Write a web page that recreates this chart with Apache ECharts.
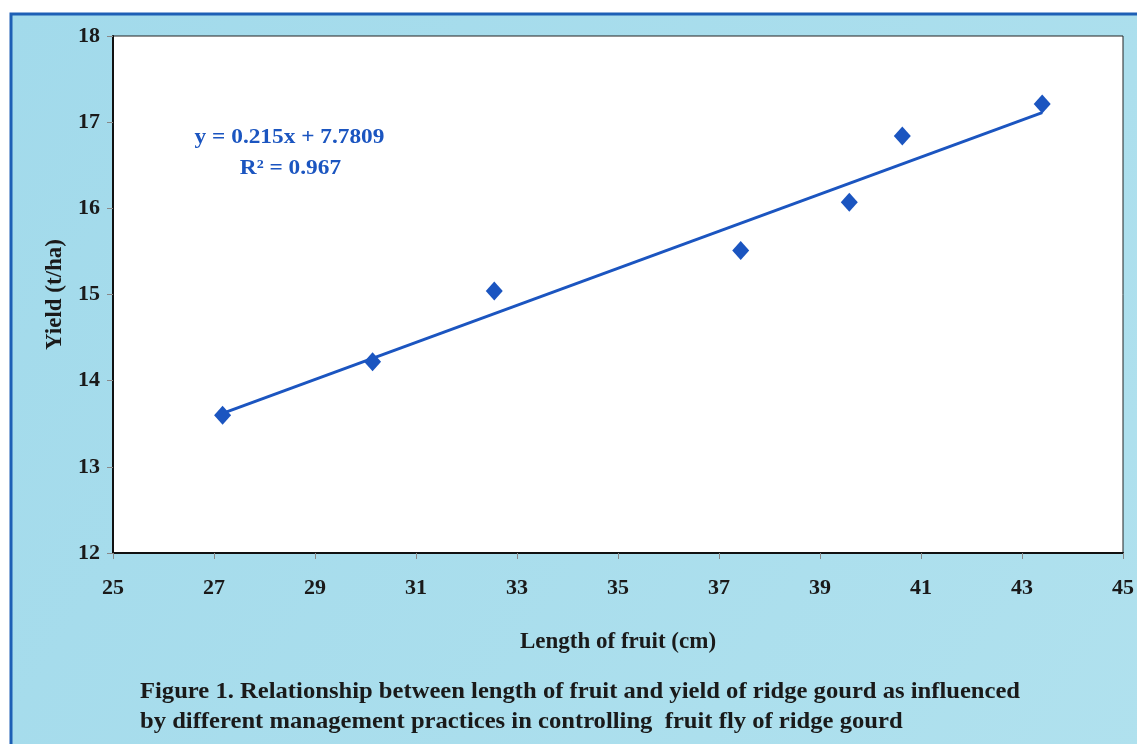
<!DOCTYPE html>
<html><head><meta charset="utf-8">
<script src="https://cdn.jsdelivr.net/npm/echarts@6/dist/echarts.min.js"></script>
<style>html,body{margin:0;padding:0;background:#fff}#c{width:1137px;height:744px}</style>
</head><body><div id="c"></div>
<script>
// Data
const fruitLength = [27.17, 30.14, 32.55, 37.43, 39.58, 40.63, 43.40];
const yieldTHa    = [13.60, 14.22, 15.04, 15.51, 16.07, 16.84, 17.21];
const trendX = [27.17, 43.40];
const trendY = [13.62, 17.11];
const xTicks = [25, 27, 29, 31, 33, 35, 37, 39, 41, 43, 45];
const yTicks = [12, 13, 14, 15, 16, 17, 18];
const equationText = 'y = 0.215x + 7.7809';
const r2Text = 'R² = 0.967';
const xName = 'Length of fruit (cm)';
const yName = 'Yield (t/ha)';
const caption1 = 'Figure 1. Relationship between length of fruit and yield of ridge gourd as influenced';
const caption2 = 'by different management practices in controlling  fruit fly of ridge gourd';

const FONT = '"Liberation Serif", "DejaVu Serif", serif';
const BLUE = '#1b55c0';
const chart = echarts.init(document.getElementById('c'));
chart.setOption({
  backgroundColor: '#ffffff',
  animation: false,
  graphic: [
    { type: 'rect', z: -10, shape: { x: 11, y: 14, width: 1140, height: 740 },
      style: { fill: new echarts.graphic.LinearGradient(0, 0, 1, 1, [
        { offset: 0, color: '#a2daeb' }, { offset: 1, color: '#b0e1ee' }]),
        stroke: '#1d5fb5', lineWidth: 3 } },
    { type: 'text', x: 308, y: 137, scaleX: 1.06, originX: 308, z: 10,
      style: { text: equationText, fill: BLUE, font: 'bold 22px ' + FONT,
               textAlign: 'center', textVerticalAlign: 'middle' } },
    { type: 'text', x: 309, y: 168, scaleX: 1.06, originX: 309, z: 10,
      style: { text: r2Text, fill: BLUE, font: 'bold 22px ' + FONT,
               textAlign: 'center', textVerticalAlign: 'middle' } },
    { type: 'text', x: 140, y: 692, scaleX: 1.07, z: 10,
      style: { text: caption1, fill: '#1a1a1a', font: 'bold 23px ' + FONT, textVerticalAlign: 'middle' } },
    { type: 'text', x: 140, y: 722, scaleX: 1.07, z: 10,
      style: { text: caption2, fill: '#1a1a1a', font: 'bold 23px ' + FONT, textVerticalAlign: 'middle' } }
  ],
  grid: { left: 113, right: 10, top: 36, bottom: 191, show: true,
          backgroundColor: '#ffffff', borderColor: '#222', borderWidth: 1, containLabel: false },
  xAxis: {
    type: 'value', min: xTicks[0], max: xTicks[xTicks.length - 1], interval: 2,
    name: xName, nameLocation: 'middle', nameGap: 78,
    nameTextStyle: { fontFamily: FONT, fontWeight: 'bold', fontSize: 23, color: '#1a1a1a' },
    axisLine: { show: true, lineStyle: { color: '#111', width: 2 } },
    axisTick: { show: true, inside: false, length: 6, lineStyle: { color: '#888' } },
    axisLabel: { margin: 24, fontFamily: FONT, fontWeight: 'bold', fontSize: 22, color: '#1a1a1a' },
    splitLine: { show: false }
  },
  yAxis: {
    type: 'value', min: yTicks[0], max: yTicks[yTicks.length - 1], interval: 1,
    name: yName, nameLocation: 'middle', nameGap: 46, nameRotate: 90,
    nameTextStyle: { fontFamily: FONT, fontWeight: 'bold', fontSize: 23, color: '#1a1a1a' },
    axisLine: { show: true, lineStyle: { color: '#111', width: 2 } },
    axisTick: { show: true, inside: false, length: 6, lineStyle: { color: '#888' } },
    axisLabel: { margin: 13, fontFamily: FONT, fontWeight: 'bold', fontSize: 22, color: '#1a1a1a' },
    splitLine: { show: false }
  },
  series: [
    { type: 'line', data: trendX.map((x, i) => [x, trendY[i]]), symbol: 'none',
      lineStyle: { color: BLUE, width: 3 }, z: 2 },
    { type: 'scatter', data: fruitLength.map((x, i) => [x, yieldTHa[i]]),
      symbol: 'diamond', symbolSize: [17, 19], itemStyle: { color: BLUE, opacity: 1 }, z: 3 }
  ]
});
</script></body></html>
